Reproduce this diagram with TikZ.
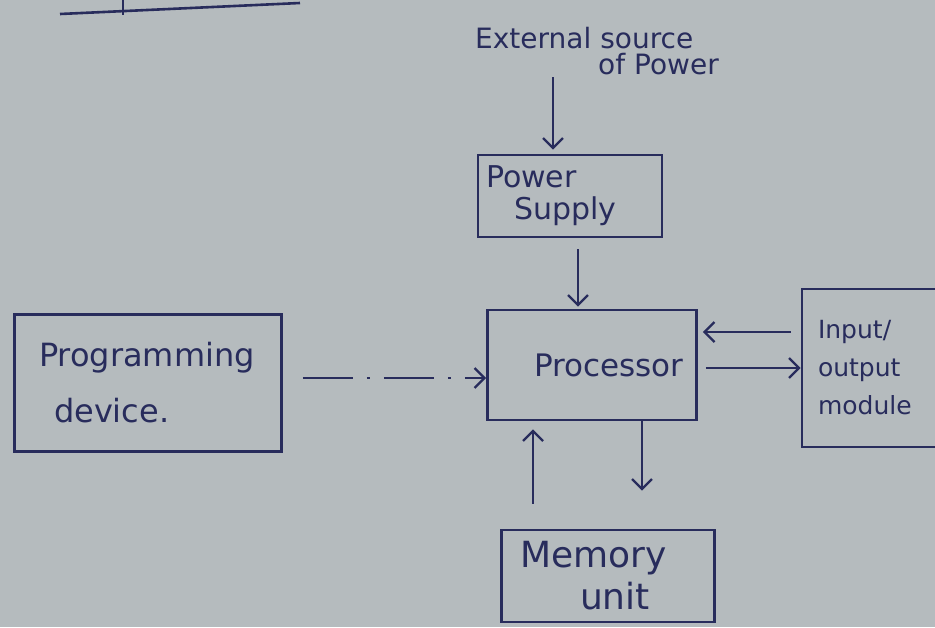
\documentclass[tikz,border=0pt]{standalone}
\usepackage{fontspec}
\setmainfont{DejaVu Sans}
\usetikzlibrary{arrows.meta,calc}
\definecolor{paper}{RGB}{181,187,190}
\definecolor{ink}{RGB}{40,44,92}
\begin{document}
\begin{tikzpicture}[x=1pt,y=-1pt,
  pen/.style={draw=ink, line width=2.6pt},
  box/.style={pen, rectangle, text=ink, inner sep=0pt},
  lbl/.style={text=ink, inner sep=0pt},
  arr/.style={pen, -{Straight Barb[length=10pt,width=20pt,line width=2.4pt]}},
  dasharr/.style={arr, dash pattern=on 50pt off 14pt on 3pt off 14pt}]
\useasboundingbox[fill=paper] (0,0) rectangle (935,627);
\begin{scope}
\clip (0,0) rectangle (935,627);
% stray fragment at the top
\draw[pen] (60,14) -- (300,3);
\draw[pen] (123,-2) -- (123,15);
% boxes
\node[box, minimum width=184pt, minimum height=82pt, text width=168pt, align=left,
      font=\fontsize{30}{32}\selectfont] (ps) at (570,196) {Power\\\hspace*{28pt}Supply};
\node[box, minimum width=209pt, minimum height=110pt,
      font=\fontsize{31}{34}\selectfont] (proc) at (592,365) {\hspace*{34pt}Processor};
\node[box, minimum width=267pt, minimum height=137pt, text width=218pt, align=left,
      font=\fontsize{32}{56}\selectfont] (prog) at (148,383) {Programming\\\hspace*{15pt}device.};
\node[box, minimum width=142pt, minimum height=158pt, text width=110pt, align=left,
      font=\fontsize{25}{38}\selectfont] (io) at (873,368) {Input/\\output\\module};
\node[box, minimum width=213pt, minimum height=92pt, text width=176pt, align=left,
      font=\fontsize{36}{42}\selectfont] (mem) at (608,576) {Memory\\\hspace*{60pt}unit};
\node[lbl, anchor=north west, align=left, font=\fontsize{28}{26}\selectfont] (ext) at (475,27)
      {External source\\\hspace*{123pt}of Power};
% connectors
\draw[arr] ($(ext.north west)+(78,50)$) -- ($(ps.north)+(-17,-4)$);
\draw[arr] ($(ps.south)+(8,11)$) -- ($(proc.north)+(-14,-2)$);
\draw[dasharr] ($(prog.east)+(20,-5)$) -- ($(proc.west)+(0,13)$);
\draw[arr] ($(io.west)+(-10,-36)$) -- ($(proc.east)+(5,-33)$);
\draw[arr] ($(proc.east)+(8,3)$) -- (io.west);
\draw[arr] ($(proc.south)+(50,0)$) -- ($(mem.north)+(34,-38)$);
\draw[arr] ($(mem.north)+(-75,-25)$) -- ($(proc.south)+(-59,8)$);
\end{scope}
\end{tikzpicture}
\end{document}
